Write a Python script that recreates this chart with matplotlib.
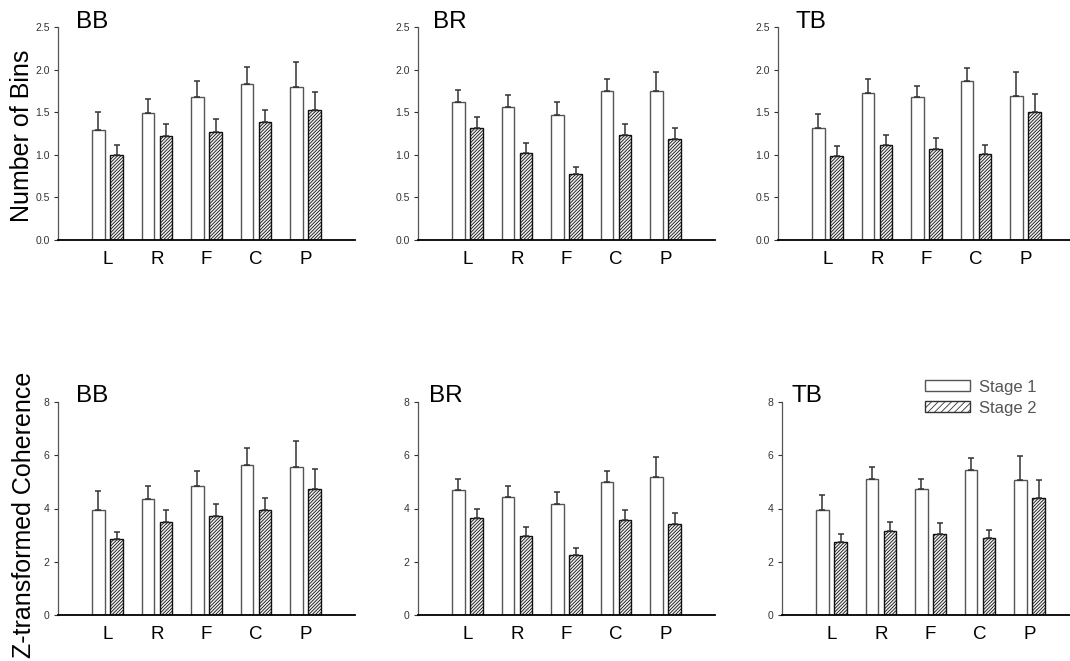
import numpy as np
import matplotlib
matplotlib.use("Agg")
import matplotlib.pyplot as plt
from matplotlib.patches import Patch

# --- DATA ---
sites = ["L", "R", "F", "C", "P"]
groups = ["BB", "BR", "TB"]

# number of bins (mean, upper error bar end)
bins_stage1 = {
    "BB": [1.29, 1.49, 1.68, 1.83, 1.79],
    "BR": [1.62, 1.56, 1.47, 1.75, 1.75],
    "TB": [1.32, 1.73, 1.68, 1.87, 1.69],
}
bins_stage1_top = {
    "BB": [1.50, 1.66, 1.87, 2.03, 2.09],
    "BR": [1.76, 1.70, 1.62, 1.89, 1.97],
    "TB": [1.48, 1.89, 1.81, 2.02, 1.97],
}
bins_stage2 = {
    "BB": [1.00, 1.22, 1.27, 1.38, 1.53],
    "BR": [1.31, 1.02, 0.77, 1.23, 1.19],
    "TB": [0.99, 1.12, 1.07, 1.01, 1.50],
}
bins_stage2_top = {
    "BB": [1.11, 1.36, 1.42, 1.52, 1.74],
    "BR": [1.44, 1.14, 0.86, 1.36, 1.32],
    "TB": [1.10, 1.23, 1.20, 1.12, 1.71],
}

# z-transformed coherence (mean, upper error bar end)
coh_stage1 = {
    "BB": [3.96, 4.34, 4.85, 5.64, 5.56],
    "BR": [4.70, 4.45, 4.18, 5.00, 5.19],
    "TB": [3.96, 5.10, 4.72, 5.46, 5.06],
}
coh_stage1_top = {
    "BB": [4.66, 4.84, 5.41, 6.28, 6.54],
    "BR": [5.11, 4.86, 4.61, 5.41, 5.93],
    "TB": [4.49, 5.56, 5.10, 5.89, 5.96],
}
coh_stage2 = {
    "BB": [2.84, 3.51, 3.72, 3.96, 4.75],
    "BR": [3.65, 2.96, 2.25, 3.58, 3.43],
    "TB": [2.76, 3.15, 3.06, 2.89, 4.39],
}
coh_stage2_top = {
    "BB": [3.12, 3.95, 4.16, 4.40, 5.49],
    "BR": [4.00, 3.31, 2.51, 3.94, 3.84],
    "TB": [3.06, 3.48, 3.44, 3.20, 5.06],
}

# --- STYLE ---
plt.rcParams["font.family"] = ["Liberation Sans", "DejaVu Sans"]
plt.rcParams["hatch.linewidth"] = 0.6
plt.rcParams["hatch.color"] = "#333333"

W, H = 1070, 661
fig = plt.figure(figsize=(W / 100, H / 100), dpi=100)

# axes rectangles in pixels: (left, top, width, height)
top_boxes = [(58, 27, 297, 213), (418, 27, 297, 213), (778, 27, 297, 213)]
bot_boxes = [(58, 402, 297, 213), (418, 402, 297, 213), (782, 402, 297, 213)]
top_title_x = [76, 433, 795]
bot_title_x = [76, 429, 791]

x = np.arange(len(sites))
bw = 0.25
off = 0.185


def draw_panel(box, title_x, name, s1, s1_top, s2, s2_top, ymax, ystep, fmt):
    l, t, w, h = box
    ax = fig.add_axes([l / W, 1 - (t + h) / H, w / W, h / H])
    s1 = np.array(s1)
    s2 = np.array(s2)
    e1 = np.array(s1_top) - s1
    e2 = np.array(s2_top) - s2

    ax.bar(x - off, s1, bw, color="white", edgecolor="#555555", linewidth=1.0, zorder=2)
    ax.bar(x + off, s2, bw, color="#f0f0f0", edgecolor="#111111", linewidth=1.0,
           hatch="/" * 10, zorder=2)
    ax.errorbar(x - off, s1, yerr=[np.zeros_like(e1), e1], fmt="none",
                ecolor="#333333", elinewidth=1.1, capsize=2.5, capthick=1.1, zorder=3)
    ax.errorbar(x + off, s2, yerr=[np.zeros_like(e2), e2], fmt="none",
                ecolor="#333333", elinewidth=1.1, capsize=2.5, capthick=1.1, zorder=3)

    ax.set_xlim(-1.0, 5.0)
    ax.set_ylim(0, ymax)
    ticks = np.arange(0, ymax + 0.001, ystep)
    ax.set_yticks(ticks)
    ax.set_yticklabels([fmt.format(v) for v in ticks])
    ax.set_xticks(x)
    ax.set_xticklabels(sites, fontsize=13.5)
    ax.tick_params(axis="x", length=0, pad=8)
    ax.tick_params(axis="y", length=3, width=0.8, pad=3, labelsize=7.5,
                   colors="#333333", direction="out")

    ax.spines["top"].set_visible(False)
    ax.spines["right"].set_visible(False)
    ax.spines["left"].set_color("#555555")
    ax.spines["left"].set_linewidth(0.9)
    ax.spines["bottom"].set_color("black")
    ax.spines["bottom"].set_linewidth(1.3)

    fig.text(title_x / W, 1 - (t + 0.5) / H, name, fontsize=17.5, ha="left", va="baseline")
    return ax


# --- TOP ROW: NUMBER OF BINS ---
for i, g in enumerate(groups):
    draw_panel(top_boxes[i], top_title_x[i], g, bins_stage1[g], bins_stage1_top[g],
               bins_stage2[g], bins_stage2_top[g], 2.5, 0.5, "{:.1f}")

# --- BOTTOM ROW: COHERENCE ---
for i, g in enumerate(groups):
    draw_panel(bot_boxes[i], bot_title_x[i], g, coh_stage1[g], coh_stage1_top[g],
               coh_stage2[g], coh_stage2_top[g], 8, 2, "{:.0f}")

# y labels
fig.text(22 / W, 1 - 136 / H, "Number of Bins", fontsize=18, rotation=90,
         ha="center", va="center")
fig.text(24 / W, 1 - 515 / H, "Z-transformed Coherence", fontsize=18, rotation=90,
         ha="center", va="center")

# legend
handles = [
    Patch(facecolor="white", edgecolor="#555555", linewidth=1.0, label="Stage 1"),
    Patch(facecolor="white", edgecolor="#333333", linewidth=1.0, hatch="/" * 5,
          label="Stage 2"),
]
leg = fig.legend(handles=handles, loc="upper left", bbox_to_anchor=(918 / W, 1 - 373 / H),
                 frameon=False, fontsize=12, handlelength=2.7, handleheight=0.65,
                 handletextpad=0.55, labelspacing=0.35, borderaxespad=0)
for txt in leg.get_texts():
    txt.set_color("#555555")

plt.savefig("out.png", dpi=100)
